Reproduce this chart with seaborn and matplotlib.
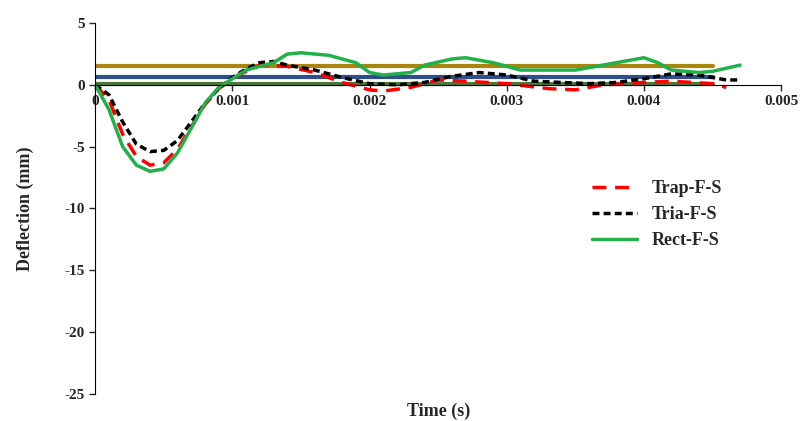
import matplotlib
matplotlib.use("Agg")
import matplotlib.pyplot as plt
import seaborn as sns

t_rect = [0, 0.0001, 0.0002, 0.0003, 0.0004, 0.0005, 0.0006, 0.0007, 0.0008, 0.0009, 0.001, 0.0011, 0.0012, 0.0013,
          0.0014, 0.0015, 0.0017, 0.0019, 0.002, 0.0021, 0.0023, 0.0024, 0.0026, 0.0027, 0.0029, 0.003, 0.0031, 0.0033,
          0.0035, 0.0037, 0.0039, 0.004, 0.0041, 0.0042, 0.0044, 0.0045, 0.0047]
rect = [0, -2, -5, -6.5, -7, -6.8, -5.5, -3.5, -1.5, -0.2, 0.5, 1.2, 1.5, 1.8, 2.5, 2.6, 2.4, 1.8, 1.0, 0.8, 1.0, 1.6,
        2.1, 2.2, 1.8, 1.5, 1.2, 1.2, 1.2, 1.6, 2.0, 2.2, 1.8, 1.2, 1.0, 1.1, 1.6]

t_tria = [0, 0.0001, 0.0002, 0.0003, 0.0004, 0.0005, 0.0006, 0.0007, 0.0008, 0.0009, 0.001, 0.0011, 0.0012, 0.0013,
          0.0014, 0.0015, 0.0016, 0.0018, 0.002, 0.0022, 0.0024, 0.0026, 0.0028, 0.003, 0.0032, 0.0034, 0.0036,
          0.0038, 0.004, 0.0042, 0.0044, 0.0046, 0.0047]
tria = [0, -0.8, -3, -4.8, -5.4, -5.3, -4.5, -3.0, -1.5, -0.3, 0.6, 1.3, 1.8, 1.9, 1.6, 1.4, 1.2, 0.6, 0.1, 0.0, 0.2,
        0.7, 1.0, 0.8, 0.3, 0.2, 0.1, 0.2, 0.5, 0.9, 0.8, 0.4, 0.4]

t_trap = [0, 0.0001, 0.0002, 0.0003, 0.0004, 0.0005, 0.0006, 0.0007, 0.0008, 0.0009, 0.001, 0.0011, 0.0012, 0.0014,
          0.0016, 0.0018, 0.002, 0.0021, 0.0023, 0.0025, 0.0027, 0.003, 0.0033, 0.0035, 0.0037, 0.004, 0.0042,
          0.0045, 0.0046]
trap = [0, -1.2, -4.0, -5.8, -6.5, -6.3, -5.2, -3.4, -1.6, -0.3, 0.5, 1.1, 1.6, 1.5, 1.0, 0.2, -0.4, -0.5, -0.2, 0.4,
        0.3, 0.1, -0.3, -0.4, 0.0, 0.2, 0.3, 0.1, -0.2]

h_levels = [1.5, 0.6, 0.1]
h_colors = ["#a8860f", "#2f4f8a", "#4a7a3a"]
h_end = 0.0045

sns.set_style("white")
plt.rcParams["font.family"] = ["Liberation Serif", "DejaVu Serif"]
plt.rcParams["font.weight"] = "bold"
plt.rcParams["axes.unicode_minus"] = False

fig, ax = plt.subplots(figsize=(8.07, 4.21), dpi=100)
for lv, c in zip(h_levels, h_colors):
    ax.plot([0, h_end], [lv, lv], color=c, lw=3)
sns.lineplot(x=t_trap, y=trap, ax=ax, color="red", lw=2.5, ls=(0, (4, 2.5)), label="Trap-F-S")
sns.lineplot(x=t_tria, y=tria, ax=ax, color="black", lw=2.5, ls=(0, (2, 1.2)), label="Tria-F-S")
sns.lineplot(x=t_rect, y=rect, ax=ax, color="#22b04a", lw=2.5, label="Rect-F-S")

ax.set_xlim(0, 0.005)
ax.set_ylim(-25, 5)
ax.set_xticks([0, 0.001, 0.002, 0.003, 0.004, 0.005])
ax.set_xticklabels(["0", "0.001", "0.002", "0.003", "0.004", "0.005"])
ax.set_yticks(range(-25, 6, 5))
ax.spines["bottom"].set_position(("data", 0))
ax.spines["top"].set_visible(False)
ax.spines["right"].set_visible(False)
for s in ("left", "bottom"):
    ax.spines[s].set_color("black")
ax.tick_params(direction="out", length=4, labelsize=11, width=1)
ax.tick_params(axis="both", which="both", bottom=True, left=True)
ax.set_ylabel("Deflection (mm)", fontsize=13, fontweight="bold", labelpad=22)
ax.text(0.0025, -26.4, "Time (s)", ha="center", va="center", fontsize=13, fontweight="bold")
ax.legend(loc="upper left", bbox_to_anchor=(0.7, 0.62), frameon=False, fontsize=13, handlelength=2.5)
plt.subplots_adjust(left=0.118, right=0.968, top=0.945, bottom=0.065)
plt.savefig("out.png", dpi=100)
